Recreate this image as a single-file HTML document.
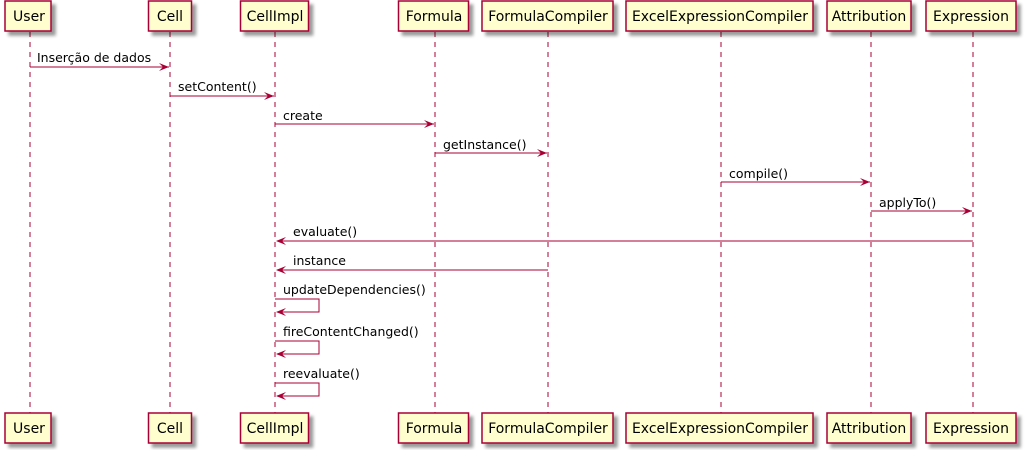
<!DOCTYPE html>
<html><head><meta charset="utf-8"><style>html,body{margin:0;padding:0;background:#fff}svg{display:block}</style></head>
<body>
<svg width="1025" height="450" xmlns="http://www.w3.org/2000/svg" font-family="'DejaVu Sans', sans-serif" font-size="13">
<defs>
<filter id="sh" x="-20%" y="-20%" width="150%" height="160%"><feGaussianBlur in="SourceAlpha" stdDeviation="1.5"/><feOffset dx="4" dy="4"/><feComponentTransfer><feFuncA type="linear" slope="0.4"/></feComponentTransfer><feMerge><feMergeNode/><feMergeNode in="SourceGraphic"/></feMerge></filter>
</defs>
<g stroke="#A80036" stroke-width="1" stroke-dasharray="5,5">
<line x1="30" y1="32" x2="30" y2="413"/>
<line x1="170" y1="32" x2="170" y2="413"/>
<line x1="275" y1="32" x2="275" y2="413"/>
<line x1="435" y1="32" x2="435" y2="413"/>
<line x1="548" y1="32" x2="548" y2="413"/>
<line x1="721" y1="32" x2="721" y2="413"/>
<line x1="871" y1="32" x2="871" y2="413"/>
<line x1="973" y1="32" x2="973" y2="413"/>
</g>
<g fill="#FEFECE" stroke="#A80036" stroke-width="1.5" filter="url(#sh)">
<rect x="5" y="1" width="46" height="30"/><rect x="5" y="413" width="46" height="30"/>
<rect x="148.5" y="1" width="43" height="30"/><rect x="148.5" y="413" width="43" height="30"/>
<rect x="240.5" y="1" width="68" height="30"/><rect x="240.5" y="413" width="68" height="30"/>
<rect x="398.5" y="1" width="70" height="30"/><rect x="398.5" y="413" width="70" height="30"/>
<rect x="482" y="1" width="131" height="30"/><rect x="482" y="413" width="131" height="30"/>
<rect x="626" y="1" width="187" height="30"/><rect x="626" y="413" width="187" height="30"/>
<rect x="827" y="1" width="84" height="30"/><rect x="827" y="413" width="84" height="30"/>
<rect x="926" y="1" width="90" height="30"/><rect x="926" y="413" width="90" height="30"/>
</g>
<g fill="#000" text-anchor="middle" font-size="14">
<text x="29" y="21">User</text><text x="29" y="433">User</text>
<text x="170" y="21">Cell</text><text x="170" y="433">Cell</text>
<text x="275" y="21">CellImpl</text><text x="275" y="433">CellImpl</text>
<text x="434" y="21">Formula</text><text x="434" y="433">Formula</text>
<text x="548" y="21">FormulaCompiler</text><text x="548" y="433">FormulaCompiler</text>
<text x="720" y="21">ExcelExpressionCompiler</text><text x="720" y="433">ExcelExpressionCompiler</text>
<text x="869" y="21">Attribution</text><text x="869" y="433">Attribution</text>
<text x="971" y="21">Expression</text><text x="971" y="433">Expression</text>
</g>
<g stroke="#A80036" stroke-width="1" fill="none">
<line x1="30" y1="67" x2="169" y2="67"/>
<line x1="170" y1="96" x2="274" y2="96"/>
<line x1="275" y1="124" x2="434" y2="124"/>
<line x1="435" y1="153" x2="547" y2="153"/>
<line x1="721" y1="182" x2="870" y2="182"/>
<line x1="871" y1="211" x2="972" y2="211"/>
<line x1="277" y1="241" x2="973" y2="241"/>
<line x1="277" y1="270" x2="548" y2="270"/>
<polyline points="275,299 319,299 319,312 277,312"/>
<polyline points="275,341 319,341 319,354 277,354"/>
<polyline points="275,383 319,383 319,396 277,396"/>
</g>
<g fill="#A80036">
<polygon points="169,67 159,63 163,67 159,71"/>
<polygon points="274,96 264,92 268,96 264,100"/>
<polygon points="434,124 424,120 428,124 424,128"/>
<polygon points="547,153 537,149 541,153 537,157"/>
<polygon points="870,182 860,178 864,182 860,186"/>
<polygon points="972,211 962,207 966,211 962,215"/>
<polygon points="276,241 286,237 282,241 286,245"/>
<polygon points="276,270 286,266 282,270 286,274"/>
<polygon points="276,312 286,308 282,312 286,316"/>
<polygon points="276,354 286,350 282,354 286,358"/>
<polygon points="276,396 286,392 282,396 286,400"/>
</g>
<g fill="#000" font-size="12.5">
<text x="37" y="62">Inserção de dados</text>
<text x="178" y="91">setContent()</text>
<text x="283" y="120">create</text>
<text x="443" y="149">getInstance()</text>
<text x="729" y="178">compile()</text>
<text x="879" y="207">applyTo()</text>
<text x="293" y="236">evaluate()</text>
<text x="293" y="265">instance</text>
<text x="283" y="294">updateDependencies()</text>
<text x="283" y="336">fireContentChanged()</text>
<text x="283" y="378">reevaluate()</text>
</g>
</svg>
</body></html>
